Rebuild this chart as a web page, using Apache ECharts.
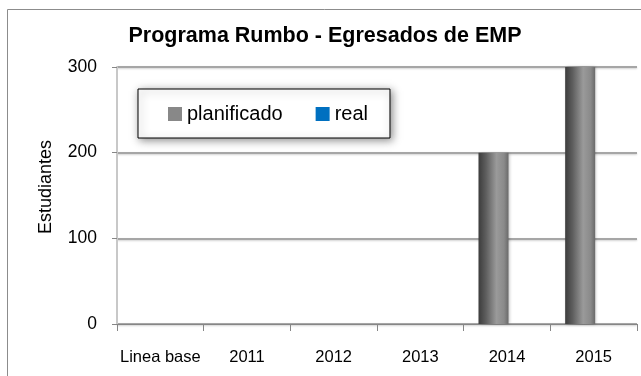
<!DOCTYPE html>
<html>
<head>
<meta charset="utf-8">
<script src="https://cdn.jsdelivr.net/npm/echarts@6/dist/echarts.min.js"></script>
<style>
  html, body { margin: 0; padding: 0; background: #fff; }
  #chart { width: 641px; height: 376px; }
</style>
</head>
<body>
<div id="chart"></div>
<script>
// Categories and series values
const categories = ['Linea base', '2011', '2012', '2013', '2014', '2015'];
const planificado = [null, null, null, null, 200, 300];
const real = [null, null, null, null, null, null];
const yTicks = { min: 0, max: 300, step: 100 };

const FONT = '"Liberation Sans", Arial, sans-serif';

const chart = echarts.init(document.getElementById('chart'), null, { renderer: 'canvas' });

// Cylinder-like shading across each bar
const barGradient = new echarts.graphic.LinearGradient(0, 0, 1, 0, [
  { offset: 0, color: '#3c3c3c' },
  { offset: 0.25, color: '#5e5e5e' },
  { offset: 0.6, color: '#9a9a9a' },
  { offset: 0.85, color: '#8a8a8a' },
  { offset: 1, color: '#6a6a6a' }
]);

chart.setOption({
  animation: false,
  backgroundColor: '#ffffff',
  graphic: [
    {
      type: 'rect',
      shape: { x: 7.5, y: 9.5, width: 640, height: 380 },
      style: { fill: 'none', stroke: '#8c8c8c', lineWidth: 1 },
      z: 0
    }
  ],
  title: {
    text: 'Programa Rumbo - Egresados de EMP',
    left: 320,
    textAlign: 'center',
    top: 20,
    textStyle: { fontFamily: FONT, fontSize: 21.5, fontWeight: 'bold', color: '#000' }
  },
  legend: {
    left: 138,
    top: 89,
    padding: [15, 22, 14, 30],
    itemGap: 33,
    itemWidth: 14,
    itemHeight: 14,
    backgroundColor: '#ffffff',
    borderColor: '#000000',
    borderWidth: 1,
    shadowBlur: 8,
    shadowColor: 'rgba(0,0,0,0.45)',
    shadowOffsetX: 2,
    shadowOffsetY: 2,
    textStyle: { fontFamily: FONT, fontSize: 20, lineHeight: 20, color: '#000' },
    data: [
      { name: 'planificado', icon: 'rect', itemStyle: { color: '#888888' } },
      { name: 'real', icon: 'rect', itemStyle: { color: '#0070c0' } }
    ]
  },
  grid: { left: 117, right: 4, top: 67, bottom: 52 },
  xAxis: {
    type: 'category',
    data: categories,
    axisLine: { lineStyle: { color: '#868686', width: 1 } },
    axisTick: { show: true, alignWithLabel: false, length: 7, lineStyle: { color: '#868686' } },
    axisLabel: { interval: 0, fontFamily: FONT, fontSize: 16.5, color: '#000', margin: 25 }
  },
  yAxis: {
    type: 'value',
    min: yTicks.min,
    max: yTicks.max,
    interval: yTicks.step,
    name: 'Estudiantes',
    nameLocation: 'middle',
    nameGap: 62,
    nameTextStyle: { fontFamily: FONT, fontSize: 18, color: '#000', padding: [0, 0, 0, 17] },
    axisLine: { show: true, lineStyle: { color: '#c8c8c8', width: 2 } },
    axisTick: { show: true, length: 5, lineStyle: { color: '#868686' } },
    axisLabel: { fontFamily: FONT, fontSize: 17.5, color: '#000', margin: 20 },
    splitLine: {
      lineStyle: {
        color: '#a6a6a6', width: 2,
        shadowColor: 'rgba(0,0,0,0.18)', shadowBlur: 2, shadowOffsetY: 1
      }
    }
  },
  series: [
    {
      name: 'planificado',
      type: 'bar',
      data: planificado,
      barWidth: 30,
      barGap: '-10%',
      itemStyle: {
        color: barGradient,
        shadowColor: 'rgba(0,0,0,0.25)', shadowBlur: 3, shadowOffsetX: 1
      }
    },
    {
      name: 'real',
      type: 'bar',
      data: real,
      barWidth: 30,
      itemStyle: { color: '#0070c0' }
    }
  ]
});
</script>
</body>
</html>
